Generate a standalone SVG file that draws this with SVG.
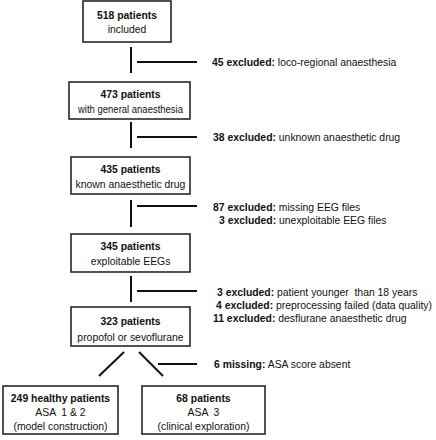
<svg xmlns="http://www.w3.org/2000/svg" width="436" height="440" viewBox="0 0 436 440">
<style>
  .box{fill:#fff;stroke:#1a1a1a;stroke-width:1.5}
  .ln{stroke:#111;stroke-width:2;fill:none}
  text{font-family:"Liberation Sans",Arial,sans-serif;font-size:10.4px;fill:#111;white-space:pre}
  .c{text-anchor:middle}
  .b{font-weight:bold}
</style>
<rect width="436" height="440" fill="#fff"/>
<g id="connectors">
  <line class="ln" x1="131" y1="47" x2="131" y2="73"/>
  <line class="ln" x1="137" y1="62" x2="197" y2="62"/>
  <line class="ln" x1="131" y1="122" x2="131" y2="148"/>
  <line class="ln" x1="137" y1="137" x2="197" y2="137"/>
  <line class="ln" x1="131" y1="200" x2="131" y2="227"/>
  <line class="ln" x1="137" y1="206" x2="197" y2="206"/>
  <line class="ln" x1="131" y1="276" x2="131" y2="302"/>
  <line class="ln" x1="137" y1="291" x2="197" y2="291"/>
  <line class="ln" x1="124" y1="352" x2="99" y2="376"/>
  <line class="ln" x1="139" y1="352" x2="163" y2="376"/>
  <line class="ln" x1="158" y1="364" x2="197" y2="364"/>
</g>
<g id="n1">
  <rect class="box" x="83" y="1" width="88" height="41"/>
  <text class="c b" x="127" y="19">518 patients</text>
  <text class="c" x="127" y="33">included</text>
</g>
<g id="ex1">
  <text x="212" y="66"><tspan class="b">45 excluded:</tspan> loco-regional anaesthesia</text>
</g>
<g id="n2">
  <rect class="box" x="69" y="82" width="121" height="37"/>
  <text class="c b" x="130.5" y="98">473 patients</text>
  <text class="c" x="130.5" y="113" textLength="105" lengthAdjust="spacingAndGlyphs">with general anaesthesia</text>
</g>
<g id="ex2">
  <text x="213" y="141"><tspan class="b">38 excluded:</tspan> unknown anaesthetic drug</text>
</g>
<g id="n3">
  <rect class="box" x="71" y="157" width="119" height="37"/>
  <text class="c b" x="130.5" y="173">435 patients</text>
  <text class="c" x="130.5" y="188">known anaesthetic drug</text>
</g>
<g id="ex3">
  <text x="213" y="211"><tspan class="b">87 excluded:</tspan> missing EEG files</text>
  <text x="219" y="224"><tspan class="b">3 excluded:</tspan> unexploitable EEG files</text>
</g>
<g id="n4">
  <rect class="box" x="71" y="234" width="119" height="38"/>
  <text class="c b" x="130.5" y="250">345 patients</text>
  <text class="c" x="130.5" y="265">exploitable EEGs</text>
</g>
<g id="ex4">
  <text x="217" y="296"><tspan class="b">3 excluded:</tspan> patient younger  than 18 years</text>
  <text x="216" y="309"><tspan class="b">4 excluded:</tspan> preprocessing failed (data quality)</text>
  <text x="213" y="322"><tspan class="b">11 excluded:</tspan> desflurane anaesthetic drug</text>
</g>
<g id="n5">
  <rect class="box" x="71" y="307" width="119" height="39"/>
  <text class="c b" x="130.5" y="325">323 patients</text>
  <text class="c" x="130.5" y="341">propofol or sevoflurane</text>
</g>
<g id="ex5">
  <text x="214" y="368"><tspan class="b">6 missing:</tspan> ASA score absent</text>
</g>
<g id="n6">
  <rect class="box" x="3" y="386" width="115" height="48"/>
  <text class="c b" x="60.5" y="402">249 healthy patients</text>
  <text class="c" x="60.5" y="416">ASA  1 &amp; 2</text>
  <text class="c" x="60.5" y="430">(model construction)</text>
</g>
<g id="n7">
  <rect class="box" x="142" y="386" width="123" height="48"/>
  <text class="c b" x="203.5" y="402">68 patients</text>
  <text class="c" x="203.5" y="416">ASA  3</text>
  <text class="c" x="203.5" y="430">(clinical exploration)</text>
</g>
</svg>
